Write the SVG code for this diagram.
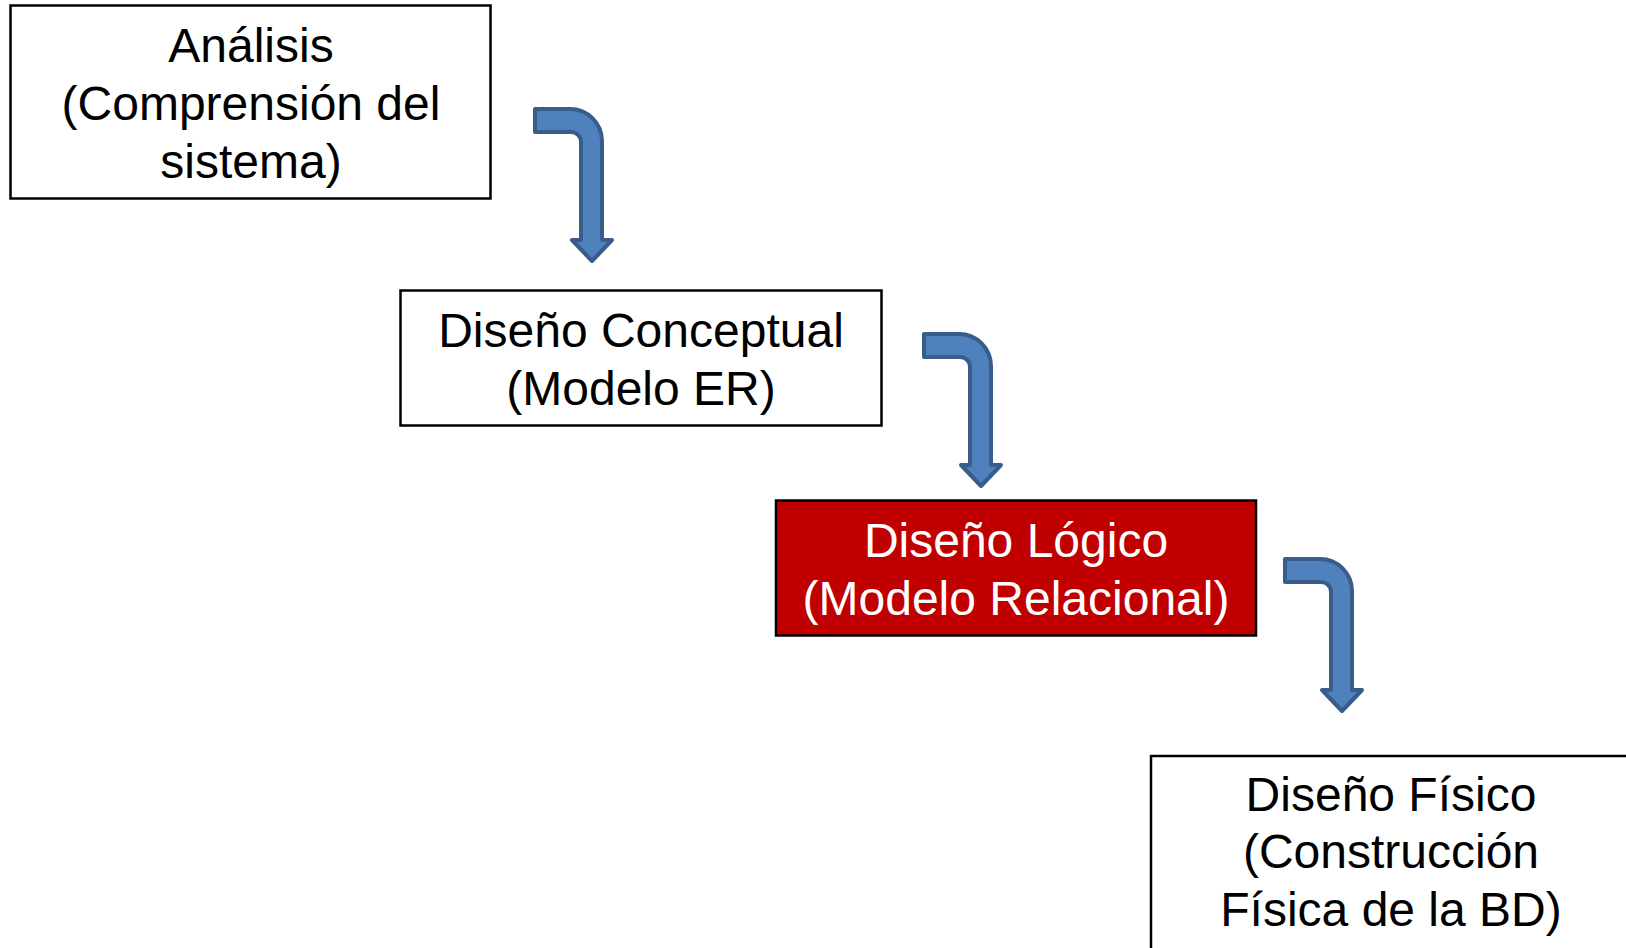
<svg xmlns="http://www.w3.org/2000/svg" width="1626" height="948" viewBox="0 0 1626 948">
<style>
.box{fill:#ffffff;stroke:#000000;stroke-width:2.5}
.red{fill:#C00000;stroke:#000000;stroke-width:2.5}
.t{font-family:"Liberation Sans",Arial,sans-serif;font-size:48px;fill:#000000;text-anchor:middle}
.w{fill:#ffffff}
.arr{fill:#4F81BD;stroke:#385D8A;stroke-width:4;stroke-linejoin:round}
</style>
<defs>
<path id="bend" d="M535,109 L570,109 A32,32 0 0 1 602,141 L602,240 L612,240 L592,261 L572,240 L581,240 L581,142 A10,10 0 0 0 571,132 L535,132 Z"/>
</defs>
<rect width="1626" height="948" fill="#ffffff"/>
<g id="connectors">
<use href="#bend" class="arr"/>
<use href="#bend" class="arr" transform="translate(389,225)"/>
<use href="#bend" class="arr" transform="translate(750,450)"/>
</g>
<g id="analisis">
<rect class="box" x="10.5" y="5.5" width="480" height="193"/>
<text class="t" x="251" y="62">Análisis</text>
<text class="t" x="251" y="120">(Comprensión del</text>
<text class="t" x="251" y="178">sistema)</text>
</g>
<g id="conceptual">
<rect class="box" x="400.5" y="290.5" width="481" height="135"/>
<text class="t" x="641" y="347">Diseño Conceptual</text>
<text class="t" x="641" y="405">(Modelo ER)</text>
</g>
<g id="logico">
<rect class="red" x="776" y="500.5" width="480" height="135"/>
<text class="t w" x="1016" y="557">Diseño Lógico</text>
<text class="t w" x="1016" y="615">(Modelo Relacional)</text>
</g>
<g id="fisico">
<rect class="box" x="1151" y="756" width="500" height="220"/>
<text class="t" x="1391" y="811">Diseño Físico</text>
<text class="t" x="1391" y="868">(Construcción</text>
<text class="t" x="1391" y="926">Física de la BD)</text>
</g>
</svg>
